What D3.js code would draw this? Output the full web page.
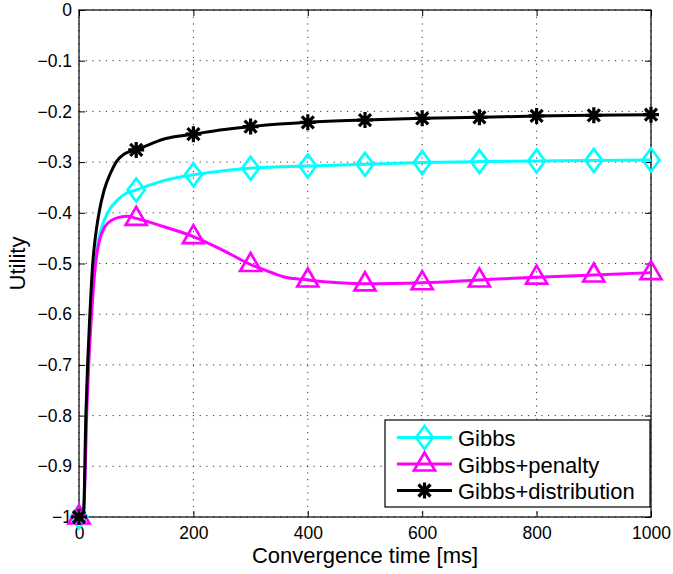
<!DOCTYPE html>
<html>
<head>
<meta charset="utf-8">
<script src="https://cdn.jsdelivr.net/npm/d3@7"></script>
<style>
  html, body { margin: 0; padding: 0; background: #fff; }
  svg { display: block; }
  text { font-family: "Liberation Sans", Arial, Helvetica, sans-serif; }
</style>
</head>
<body>
<svg id="chart" width="673" height="574"></svg>
<script>
// ---------- data ----------
const seriesNames = ["Gibbs", "Gibbs+penalty", "Gibbs+distribution"];
const markerX = [0, 100, 200, 300, 400, 500, 600, 700, 800, 900, 1000];

// values at the markers
const gibbsMarkers        = [-1, -0.355, -0.325, -0.312, -0.3077, -0.3044, -0.301, -0.299, -0.298, -0.2966, -0.296];
const penaltyMarkers      = [-1, -0.411, -0.447, -0.502, -0.5325, -0.540, -0.538, -0.5325, -0.527, -0.5227, -0.518];
const distributionMarkers = [-1, -0.276, -0.245, -0.230, -0.2216, -0.217, -0.2137, -0.2117, -0.209, -0.2078, -0.2065];

// curve traces (x in ms, utility)
const gibbsCurveX = [0, 8, 13, 17, 21, 28, 34, 42, 50, 67, 82, 100, 150, 200, 300, 400, 500, 600, 700, 800, 900, 1000];
const gibbsCurveY = [-1, -0.99, -0.78, -0.68, -0.6, -0.5, -0.454, -0.421, -0.4, -0.375, -0.362, -0.355, -0.336, -0.325, -0.312, -0.3077, -0.3044, -0.301, -0.299, -0.298, -0.2966, -0.296];

const penaltyCurveX = [0, 8, 14, 17, 22, 29, 36, 45.5, 58, 70, 85, 100, 150, 200, 250, 300, 325, 357, 400, 500, 600, 700, 800, 900, 1000];
const penaltyCurveY = [-1, -0.99, -0.78, -0.7, -0.6, -0.5, -0.454, -0.427, -0.414, -0.409, -0.407, -0.411, -0.428, -0.447, -0.473, -0.502, -0.513, -0.526, -0.5325, -0.540, -0.538, -0.5325, -0.527, -0.5227, -0.518];

const distCurveX = [0, 8, 12, 15, 19, 24, 28, 35, 44, 55, 65, 79, 100, 150, 200, 250, 300, 400, 500, 600, 700, 800, 900, 1000];
const distCurveY = [-1, -0.99, -0.8, -0.7, -0.6, -0.5, -0.454, -0.4, -0.355, -0.322, -0.3, -0.284, -0.276, -0.254, -0.245, -0.236, -0.230, -0.2216, -0.217, -0.2137, -0.2117, -0.209, -0.2078, -0.2065];

const xTicks = [0, 200, 400, 600, 800, 1000];
const xTickLabels = ["0", "200", "400", "600", "800", "1000"];
const yTicks = [0, -0.1, -0.2, -0.3, -0.4, -0.5, -0.6, -0.7, -0.8, -0.9, -1];
const yTickLabels = ["0", "\u22120.1", "\u22120.2", "\u22120.3", "\u22120.4", "\u22120.5", "\u22120.6", "\u22120.7", "\u22120.8", "\u22120.9", "\u22121"];
const xLabel = "Convergence time [ms]";
const yLabel = "Utility";

// ---------- layout ----------
const L = 79, R = 651, T = 10, B = 517;
const svg = d3.select("#chart");
const x = d3.scaleLinear().domain([0, 1000]).range([L, R]);
const y = d3.scaleLinear().domain([-1, 0]).range([B, T]);

const colors = ["#00ffff", "#ff00ff", "#000000"];
const markerTypes = ["diamond", "triangle", "star"];

// grid
const grid = svg.append("g");
grid.selectAll(".gx").data(xTicks).join("line")
  .attr("x1", d => x(d)).attr("x2", d => x(d)).attr("y1", T).attr("y2", B)
  .attr("stroke", "#000").attr("stroke-opacity", 0.8).attr("stroke-width", 1)
  .attr("stroke-dasharray", "1.2,5.5");
grid.selectAll(".gy").data(yTicks).join("line")
  .attr("x1", L).attr("x2", R).attr("y1", d => y(d)).attr("y2", d => y(d))
  .attr("stroke", "#000").attr("stroke-opacity", 0.8).attr("stroke-width", 1)
  .attr("stroke-dasharray", "1.2,5.5");

// axes
const tickFont = "17.5px";
const axB = svg.append("g").attr("transform", `translate(0,${B})`)
  .call(d3.axisBottom(x).tickValues(xTicks).tickFormat((d, i) => xTickLabels[i]).tickSizeInner(-6).tickSizeOuter(0).tickPadding(10));
const axT = svg.append("g").attr("transform", `translate(0,${T})`)
  .call(d3.axisTop(x).tickValues(xTicks).tickFormat("").tickSizeInner(-6).tickSizeOuter(0));
const axLft = svg.append("g").attr("transform", `translate(${L},0)`)
  .call(d3.axisLeft(y).tickValues(yTicks).tickFormat((d, i) => yTickLabels[i]).tickSizeInner(-6).tickSizeOuter(0).tickPadding(7));
const axRgt = svg.append("g").attr("transform", `translate(${R},0)`)
  .call(d3.axisRight(y).tickValues(yTicks).tickFormat("").tickSizeInner(-6).tickSizeOuter(0));
[axB, axT, axLft, axRgt].forEach(a => {
  a.select(".domain").remove();
  a.selectAll(".tick line").attr("stroke", "#000").attr("stroke-width", 1);
  a.selectAll(".tick text").attr("font-size", tickFont).attr("fill", "#000")
    .style("font-family", '"Liberation Sans", Arial, sans-serif');
});

// frame
svg.append("rect").attr("x", L).attr("y", T).attr("width", R - L).attr("height", B - T)
  .attr("fill", "none").attr("stroke", "#000").attr("stroke-width", 1.2);

// marker symbol drawing
function drawMarker(g, type, cx, cy, color) {
  if (type === "diamond") {
    g.append("path")
      .attr("d", `M${cx},${cy - 11.5}L${cx + 8.5},${cy}L${cx},${cy + 11.5}L${cx - 8.5},${cy}Z`)
      .attr("fill", "none").attr("stroke", color).attr("stroke-width", 2.7);
  } else if (type === "triangle") {
    g.append("path")
      .attr("d", `M${cx},${cy - 11.5}L${cx + 10.5},${cy + 6.5}L${cx - 10.5},${cy + 6.5}Z`)
      .attr("fill", "none").attr("stroke", color).attr("stroke-width", 2.7)
      .attr("stroke-linejoin", "miter");
  } else {
    const a = 8, b = 6;
    g.append("path")
      .attr("d", `M${cx - a},${cy}L${cx + a},${cy}M${cx},${cy - a}L${cx},${cy + a}` +
                 `M${cx - b},${cy - b}L${cx + b},${cy + b}M${cx - b},${cy + b}L${cx + b},${cy - b}`)
      .attr("fill", "none").attr("stroke", color).attr("stroke-width", 3.2);
    g.append("circle").attr("cx", cx).attr("cy", cy).attr("r", 3).attr("fill", color);
  }
}

// series
const curves = [
  { xs: gibbsCurveX, ys: gibbsCurveY, m: gibbsMarkers },
  { xs: penaltyCurveX, ys: penaltyCurveY, m: penaltyMarkers },
  { xs: distCurveX, ys: distCurveY, m: distributionMarkers }
];
const line = d3.line().x(d => x(d[0])).y(d => y(d[1])).curve(d3.curveMonotoneX);
curves.forEach((c, si) => {
  const g = svg.append("g");
  const pts = c.xs.map((v, i) => [v, c.ys[i]]);
  g.append("path").attr("d", line(pts)).attr("fill", "none")
    .attr("stroke", colors[si]).attr("stroke-width", 3).attr("stroke-linejoin", "round");
  markerX.forEach((mx, i) => drawMarker(g, markerTypes[si], x(mx), y(c.m[i]), colors[si]));
});

// labels
svg.append("text").attr("x", (L + R) / 2).attr("y", 563).attr("text-anchor", "middle")
  .attr("font-size", "22px").attr("fill", "#000").text(xLabel);
svg.append("text").attr("transform", `translate(25,${(T + B) / 2}) rotate(-90)`)
  .attr("text-anchor", "middle").attr("font-size", "22px").attr("fill", "#000").text(yLabel);

// legend
const lg = svg.append("g");
lg.append("rect").attr("x", 385).attr("y", 420).attr("width", 265).attr("height", 87)
  .attr("fill", "#fff").attr("stroke", "#000").attr("stroke-width", 1.2);
const rowY = [437.5, 464, 490.5];
seriesNames.forEach((name, i) => {
  lg.append("line").attr("x1", 397).attr("x2", 452).attr("y1", rowY[i]).attr("y2", rowY[i])
    .attr("stroke", colors[i]).attr("stroke-width", 3);
  drawMarker(lg, markerTypes[i], 424.5, rowY[i], colors[i]);
  lg.append("text").attr("x", 458).attr("y", rowY[i] + 8.5).attr("font-size", "22px")
    .attr("fill", "#000").text(name);
});
</script>
</body>
</html>
